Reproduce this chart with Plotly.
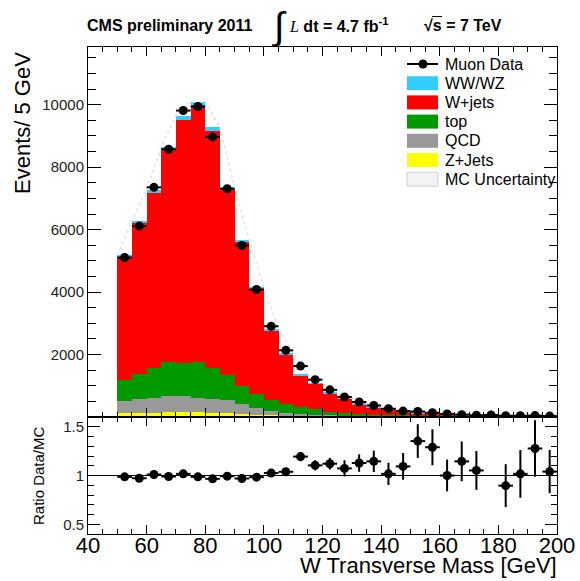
import numpy as np
import plotly.graph_objects as go

# ---- binning: 5 GeV bins of W transverse mass, 50-200 GeV ----
bin_low = np.arange(50, 200, 5)
bin_centre = bin_low + 2.5
bin_edges = np.arange(50, 205, 5)

# ---- event counts per bin ----
muon_data = [5110, 6115, 7355, 8575, 9815, 9945, 8970, 7310, 5495, 4085,
             2905, 2135, 1630, 1195, 870, 640, 480, 370, 265, 190,
             175, 135, 100, 75, 55, 65, 40, 40, 45, 30]
z_jets = [130, 135, 140, 145, 175, 160, 140, 120, 95, 75,
          55, 40, 30, 25, 20, 15, 12, 10, 8, 7,
          6, 5, 4, 4, 3, 3, 2, 2, 2, 2]
qcd = [370, 440, 470, 535, 505, 435, 450, 410, 320, 215,
       145, 90, 60, 40, 30, 20, 15, 12, 10, 8,
       6, 5, 4, 3, 3, 2, 2, 2, 1, 1]
top = [670, 810, 955, 1075, 1055, 1160, 995, 820, 585, 450,
       345, 285, 220, 190, 120, 80, 68, 53, 47, 40,
       33, 30, 27, 23, 19, 17, 16, 14, 12, 11]
w_jets = [3953, 4816, 5617, 6797, 7776, 8181, 7571, 5912, 4591, 3356,
          2239, 1602, 1025, 802, 586, 465, 318, 237, 187, 112,
          78, 60, 61, 32, 24, 25, 22, 19, 18, 13]
diboson = [60, 90, 100, 110, 140, 150, 130, 100, 80, 60,
           50, 40, 30, 25, 20, 16, 13, 11, 9, 7,
           6, 5, 4, 4, 3, 3, 3, 2, 2, 2]

# ---- data / MC ratio per bin (no entry for the 175-180 bin) ----
ratio = [0.986, 0.972, 1.010, 0.990, 1.017, 0.986, 0.966, 0.993, 0.969, 0.983,
         1.025, 1.038, 1.194, 1.104, 1.121, 1.073, 1.128, 1.145, 1.017, 1.093,
         1.353, 1.290, 1.000, 1.145, 1.052, None, 0.896, 1.017, 1.277, 1.040]
ratio_err = [0.010, 0.010, 0.010, 0.010, 0.010, 0.010, 0.010, 0.012, 0.013, 0.015,
             0.020, 0.025, 0.048, 0.052, 0.060, 0.083, 0.090, 0.110, 0.114, 0.137,
             0.173, 0.185, 0.163, 0.204, 0.199, 0.0, 0.220, 0.245, 0.290, 0.221]

# stack order bottom -> top
stack = [
    ("Z+Jets", z_jets, "#ffff00"),
    ("QCD", qcd, "#999999"),
    ("top", top, "#009900"),
    ("W+jets", w_jets, "#ff0000"),
    ("WW/WZ", diboson, "#33ccff"),
]

# ---- page geometry ----
W, H = 580, 581
ML, MR, MT, MB = 88, 23, 47, 47
PLOT_H = H - MT - MB
SPLIT = (H - MB - 417) / PLOT_H


def px(x):
    return (x - ML) / (W - ML - MR)


def py(y):
    return (H - MB - y) / PLOT_H


FONT = "Liberation Sans, Arial, sans-serif"

fig = go.Figure()

for name, vals, color in stack:
    fig.add_trace(go.Bar(
        x=bin_centre, y=vals, width=5, name=name,
        marker=dict(color=color, line=dict(width=0)),
        xaxis="x", yaxis="y", showlegend=False, hoverinfo="skip"))

# MC uncertainty outline along the outer corners of the stacked histogram
mc_total = np.sum([np.array(v) for _, v, _ in stack], axis=0)
padded = np.concatenate([[0], mc_total, [0]])
envelope = np.maximum(padded[:-1], padded[1:])
fig.add_trace(go.Scatter(
    x=bin_edges, y=envelope, mode="lines",
    line=dict(color="#e2e2e2", width=1.5, dash="dot"),
    xaxis="x", yaxis="y", showlegend=False, hoverinfo="skip"))

fig.add_trace(go.Scatter(
    x=bin_centre, y=muon_data, mode="markers", name="Muon Data",
    marker=dict(color="black", size=9),
    error_x=dict(type="constant", value=2.5, thickness=2, width=0, color="black"),
    xaxis="x", yaxis="y", showlegend=False))

fig.add_trace(go.Scatter(
    x=bin_centre, y=ratio, mode="markers",
    marker=dict(color="black", size=9),
    error_x=dict(type="constant", value=2.5, thickness=2, width=0, color="black"),
    error_y=dict(type="data", array=ratio_err, thickness=2, width=0, color="black"),
    xaxis="x2", yaxis="y2", showlegend=False))

shapes = [dict(type="line", xref="x2", yref="y2", x0=40, x1=200, y0=1, y1=1,
               line=dict(color="black", width=1.2), layer="below")]
annotations = []

# ---- legend drawn in paper coordinates ----
legend_rows = [("Muon Data", None)] + [(n, c) for n, _, c in reversed(stack)] + \
              [("MC Uncertainty", "hatch")]
for i, (label, color) in enumerate(legend_rows):
    yc = 64 + i * 19.2
    if color is None:
        shapes.append(dict(type="line", xref="paper", yref="paper",
                           x0=px(407), x1=px(438), y0=py(yc), y1=py(yc),
                           line=dict(color="black", width=2)))
        shapes.append(dict(type="circle", xref="paper", yref="paper",
                           x0=px(418.5), x1=px(427.5), y0=py(yc - 4.5), y1=py(yc + 4.5),
                           fillcolor="black", line=dict(color="black", width=0)))
    elif color == "hatch":
        shapes.append(dict(type="rect", xref="paper", yref="paper",
                           x0=px(407), x1=px(438), y0=py(yc - 7), y1=py(yc + 7),
                           fillcolor="#f3f3f3", line=dict(color="#d0d0d0", width=1)))
    else:
        shapes.append(dict(type="rect", xref="paper", yref="paper",
                           x0=px(407), x1=px(438), y0=py(yc - 7), y1=py(yc + 7),
                           fillcolor=color, line=dict(width=0)))
    annotations.append(dict(text=label, xref="paper", yref="paper", x=px(443), y=py(yc),
                            xanchor="left", yanchor="middle", showarrow=False,
                            font=dict(family=FONT, size=16, color="black")))

# ---- header ----
annotations += [
    dict(text="<b>CMS preliminary 2011</b>", x=px(85), y=py(25), xanchor="left",
         yanchor="middle", font=dict(family=FONT, size=16, color="black")),
    dict(text="\u222b", x=px(279), y=py(26), xanchor="center", yanchor="middle",
         font=dict(family=FONT, size=38, color="black")),
    dict(text="<span style='font-family:Liberation Serif;font-style:italic'>L</span>"
              "<b> dt = 4.7 fb<sup>-1</sup></b>",
         x=px(287), y=py(25), xanchor="left", yanchor="middle",
         font=dict(family=FONT, size=16, color="black")),
    dict(text="<b>\u221as = 7 TeV</b>", x=px(422), y=py(25), xanchor="left",
         yanchor="middle", font=dict(family=FONT, size=16, color="black")),
]
# overline on the s of sqrt(s)
shapes.append(dict(type="line", xref="paper", yref="paper",
                   x0=px(432), x1=px(442), y0=py(16.5), y1=py(16.5),
                   line=dict(color="black", width=1)))

# ---- axis titles ----
annotations += [
    dict(text="Events/ 5 GeV", x=px(22), y=py(50), xanchor="center", yanchor="top",
         textangle=-90, font=dict(family=FONT, size=22, color="black")),
    dict(text="Ratio Data/MC", x=px(38), y=py(476), xanchor="center", yanchor="middle",
         textangle=-90, font=dict(family=FONT, size=15, color="black")),
    dict(text="W Transverse Mass [GeV]", x=px(559), y=py(580), xanchor="right",
         yanchor="bottom", font=dict(family=FONT, size=22, color="black")),
]
for a in annotations:
    a.setdefault("xref", "paper")
    a.setdefault("yref", "paper")
    a["showarrow"] = False

frame = dict(showline=True, linecolor="black", linewidth=1, mirror="allticks",
             showgrid=False, zeroline=False, ticks="inside", tickcolor="black",
             automargin=False)

fig.update_layout(
    width=W, height=H,
    margin=dict(l=ML, r=MR, t=MT, b=MB, autoexpand=False),
    paper_bgcolor="white", plot_bgcolor="white",
    barmode="stack", bargap=0,
    font=dict(family=FONT, color="#222222"),
    showlegend=False,
    shapes=shapes, annotations=annotations,
    xaxis=dict(domain=[0, 1], anchor="y", range=[40, 200], showticklabels=False,
               tick0=40, dtick=20, ticklen=9,
               minor=dict(ticks="inside", ticklen=5, tickmode="linear", tick0=40, dtick=5,
                          tickcolor="black"),
               **frame),
    yaxis=dict(domain=[SPLIT, 1], anchor="x", range=[0, 11850],
               tickmode="array", tickvals=[2000, 4000, 6000, 8000, 10000],
               tickformat="d", ticklen=13, tickfont=dict(size=15, color="#222222"),
               minor=dict(ticks="inside", ticklen=8, tickmode="linear", tick0=0, dtick=500,
                          tickcolor="black"),
               **frame),
    xaxis2=dict(domain=[0, 1], anchor="y2", range=[40, 200],
                tick0=40, dtick=20, ticklen=9, tickfont=dict(size=22, color="black"),
                ticklabelstandoff=-8,
                minor=dict(ticks="inside", ticklen=5, tickmode="linear", tick0=40, dtick=5,
                           tickcolor="black"),
                **frame),
    yaxis2=dict(domain=[0, SPLIT], anchor="x2", range=[0.4, 1.6],
                tickmode="array", tickvals=[0.5, 1, 1.5], ticktext=["0.5", "1", "1.5"],
                ticklen=12, tickfont=dict(size=15, color="#222222"),
                minor=dict(ticks="inside", ticklen=6, tickmode="linear", tick0=0.4, dtick=0.1,
                           tickcolor="black"),
                **frame),
)

fig.write_html("out.html", config={"displayModeBar": False})
